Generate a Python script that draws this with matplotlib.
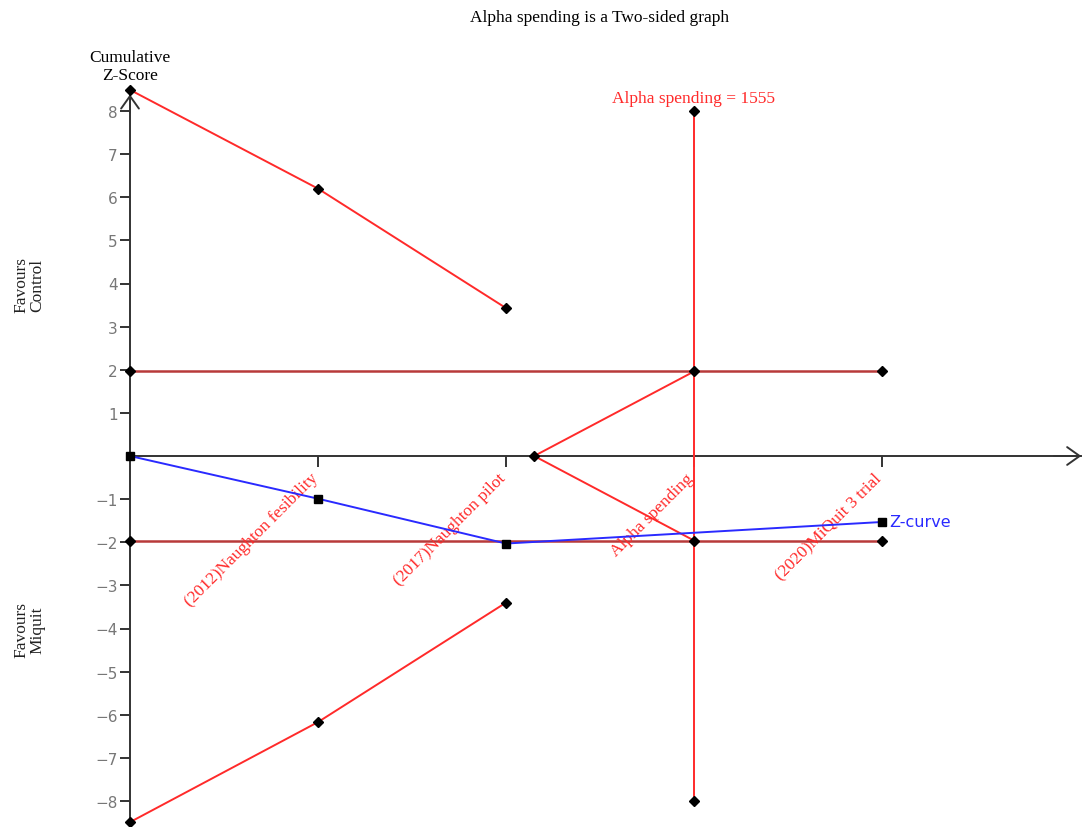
import matplotlib
matplotlib.use("Agg")
import matplotlib.pyplot as plt

# study labels along the information axis
study_labels = ["(2012)Naughton fesibility", "(2017)Naughton pilot",
                "Alpha spending", "(2020)MiQuit 3 trial"]
study_pos = [1, 2, 3, 4]

# cumulative z-curve
z_x = [0, 1, 2, 4]
z_y = [0, -0.99, -2.03, -1.53]

# monitoring boundaries (upper / lower)
bound_x = [0, 1, 2]
bound_upper = [8.49, 6.2, 3.43]
bound_lower = [-8.49, -6.17, -3.40]

# conventional significance lines
conv_x = [0, 3, 4]
conv_z = 1.96

# alpha spending line
alpha_x = 3
alpha_top = 8
alpha_bottom = -8
alpha_label = "Alpha spending = 1555"
cross_x = 2.15  # where the spending lines meet zero

y_ticks = [-8, -7, -6, -5, -4, -3, -2, -1, 1, 2, 3, 4, 5, 6, 7, 8]

serif = ["Liberation Serif", "DejaVu Serif"]
red = "#ff2a2a"
dark_red = "#b83a3a"
axis_col = "#333333"

fig = plt.figure(figsize=(10.85, 8.28), dpi=100)
ax = fig.add_axes([0, 0, 1, 1])
# pixel layout: x=0 at 130px, 188px per study; y=0 at 457px, 43.125px per unit
ax.set_xlim(-130 / 188, (1085 - 130) / 188)
ax.set_ylim((457 - 828) / 43.125, 457 / 43.125)

# axes as spines crossing at zero
for s in ["top", "right"]:
    ax.spines[s].set_visible(False)
ax.spines["left"].set_position(("data", 0))
ax.spines["bottom"].set_position(("data", 0))
ax.spines["left"].set_bounds(-8.5, 8.4)
ax.spines["bottom"].set_bounds(0, 5.06)
for s in ["left", "bottom"]:
    ax.spines[s].set_color(axis_col)
    ax.spines[s].set_linewidth(1.4)

ax.set_yticks(y_ticks)
ax.set_yticklabels([f"\u2212{abs(v)}" if v < 0 else str(v) for v in y_ticks])
ax.tick_params(axis="y", direction="out", length=7, width=1.4, color=axis_col,
               labelcolor="#777777", labelsize=11, pad=2)
ax.set_xticks(study_pos)
ax.set_xticklabels([])
ax.tick_params(axis="x", direction="out", length=8, width=1.4, color=axis_col)
for xp, lab in zip(study_pos, study_labels):
    ax.text(xp - 0.045, -0.32, lab, rotation=45, rotation_mode="anchor", ha="right",
            va="top", color=red, fontsize=12.5, family=serif)

# axis arrows
arrow = dict(arrowstyle="->,head_length=0.45,head_width=0.32", color=axis_col,
             lw=1.4, mutation_scale=20)
ax.annotate("", xy=(0, 8.45), xytext=(0, 7.9), arrowprops=arrow)
ax.annotate("", xy=(5.075, 0), xytext=(4.9, 0), arrowprops=arrow)

# conventional boundaries
ax.plot([conv_x[0], conv_x[-1]], [conv_z, conv_z], color=dark_red, lw=1.8, zorder=2)
ax.plot([conv_x[0], conv_x[-1]], [-conv_z, -conv_z], color=dark_red, lw=1.8, zorder=2)
ax.plot(conv_x, [conv_z] * 3, "D", color="black", ms=5, zorder=5)
ax.plot(conv_x, [-conv_z] * 3, "D", color="black", ms=5, zorder=5)

# monitoring boundaries
ax.plot(bound_x, bound_upper, "-", color=red, lw=1.4, zorder=3)
ax.plot(bound_x, bound_lower, "-", color=red, lw=1.4, zorder=3)
ax.plot(bound_x, bound_upper, "D", color="black", ms=5, zorder=5)
ax.plot(bound_x, bound_lower, "D", color="black", ms=5, zorder=5)

# alpha spending
ax.plot([alpha_x, alpha_x], [alpha_bottom, alpha_top], color=red, lw=1.4, zorder=3)
ax.plot([alpha_x, alpha_x], [alpha_bottom, alpha_top], "D", color="black", ms=5, zorder=5)
ax.plot([cross_x, alpha_x], [0, conv_z], color=red, lw=1.4, zorder=3)
ax.plot([cross_x, alpha_x], [0, -conv_z], color=red, lw=1.4, zorder=3)
ax.plot([cross_x], [0], "D", color="black", ms=5, zorder=5)
ax.text(alpha_x, alpha_top + 0.12, alpha_label, ha="center", va="bottom",
        color=red, fontsize=12.5, family=serif)

# z-curve
ax.plot(z_x, z_y, "-", color="#2a2aff", lw=1.4, zorder=4)
ax.plot(z_x, z_y, "s", color="black", ms=5.5, zorder=6)
ax.text(z_x[-1] + 0.04, z_y[-1], "Z-curve", ha="left", va="center",
        color="#2a2aff", fontsize=11.5)

# titles
fig.text(600 / 1085, 1 - 18 / 828, "Alpha spending is a Two-sided graph",
         ha="center", va="center", fontsize=12.5, family=serif)
ax.text(0, 8.65, "Cumulative\nZ-Score", ha="center", va="bottom",
        fontsize=12.5, family=serif, linespacing=1.15)
fig.text(29 / 1085, 1 - 285 / 828, "Favours\nControl", rotation=90,
         ha="center", va="center", fontsize=12.5, family=serif, color="#222222",
         linespacing=1.0)
fig.text(29 / 1085, 1 - 630 / 828, "Favours\nMiquit", rotation=90,
         ha="center", va="center", fontsize=12.5, family=serif, color="#222222",
         linespacing=1.0)

fig.savefig("out.png", dpi=100)
